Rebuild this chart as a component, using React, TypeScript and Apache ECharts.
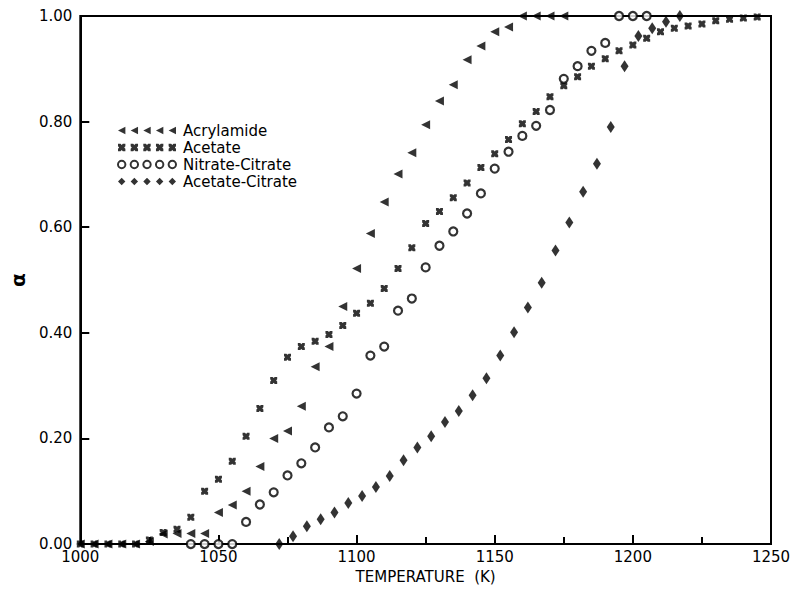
import React, { useEffect, useRef } from "react";
import * as echarts from "echarts";

const xTicks = [1000, 1050, 1100, 1150, 1200, 1250];
const yTicks = [0, 0.2, 0.4, 0.6, 0.8, 1.0];

const seriesNames = ["Acrylamide", "Acetate", "Nitrate-Citrate", "Acetate-Citrate"];

const acrylamideT = [1000, 1005, 1010, 1015, 1020, 1025, 1030, 1035, 1040, 1045, 1050, 1055, 1060, 1065, 1070, 1075, 1080, 1085, 1090, 1095, 1100, 1105, 1110, 1115, 1120, 1125, 1130, 1135, 1140, 1145, 1150, 1155, 1160, 1165, 1170, 1175];
const acrylamideA = [0, 0, 0, 0, 0, 0.005, 0.019, 0.02, 0.02, 0.02, 0.06, 0.074, 0.1, 0.147, 0.2, 0.214, 0.261, 0.336, 0.374, 0.45, 0.522, 0.588, 0.648, 0.701, 0.741, 0.794, 0.839, 0.87, 0.917, 0.943, 0.97, 0.979, 1, 1, 1, 1];

const acetateT = [1000, 1005, 1010, 1015, 1020, 1025, 1030, 1035, 1040, 1045, 1050, 1055, 1060, 1065, 1070, 1075, 1080, 1085, 1090, 1095, 1100, 1105, 1110, 1115, 1120, 1125, 1130, 1135, 1140, 1145, 1150, 1155, 1160, 1165, 1170, 1175, 1180, 1185, 1190, 1195, 1200, 1205, 1210, 1215, 1220, 1225, 1230, 1235, 1240, 1245];
const acetateA = [0, 0, 0, 0, 0, 0.008, 0.022, 0.028, 0.051, 0.1, 0.123, 0.157, 0.204, 0.257, 0.31, 0.354, 0.374, 0.384, 0.397, 0.414, 0.437, 0.456, 0.484, 0.522, 0.561, 0.607, 0.63, 0.656, 0.684, 0.713, 0.739, 0.766, 0.796, 0.819, 0.847, 0.868, 0.885, 0.905, 0.919, 0.934, 0.945, 0.958, 0.97, 0.977, 0.981, 0.985, 0.991, 0.994, 0.996, 0.998];

const nitrateT = [1040, 1045, 1050, 1055, 1060, 1065, 1070, 1075, 1080, 1085, 1090, 1095, 1100, 1105, 1110, 1115, 1120, 1125, 1130, 1135, 1140, 1145, 1150, 1155, 1160, 1165, 1170, 1175, 1180, 1185, 1190, 1195, 1200, 1205];
const nitrateA = [0, 0, 0, 0, 0.042, 0.075, 0.098, 0.13, 0.153, 0.183, 0.221, 0.242, 0.285, 0.357, 0.374, 0.442, 0.465, 0.524, 0.565, 0.592, 0.626, 0.664, 0.711, 0.743, 0.773, 0.792, 0.822, 0.881, 0.905, 0.934, 0.949, 1, 1, 1];

const acCitT = [1072, 1077, 1082, 1087, 1092, 1097, 1102, 1107, 1112, 1117, 1122, 1127, 1132, 1137, 1142, 1147, 1152, 1157, 1162, 1167, 1172, 1177, 1182, 1187, 1192, 1197, 1202, 1207, 1212, 1217];
const acCitA = [0, 0.015, 0.034, 0.047, 0.06, 0.078, 0.091, 0.108, 0.129, 0.159, 0.183, 0.204, 0.231, 0.252, 0.282, 0.314, 0.357, 0.401, 0.448, 0.495, 0.556, 0.609, 0.667, 0.72, 0.79, 0.905, 0.962, 0.977, 0.989, 1.0];

const FONT = "DejaVu Sans";

const xMarkPath =
  "path://M0,0L3.5,0L5,1.5L6.5,0L10,0L10,3.5L8.5,5L10,6.5L10,10L6.5,10L5,8.5L3.5,10L0,10L0,6.5L1.5,5L0,3.5Z";

function repeatPath(one: (o: number) => string) {
  let s = "";
  for (let i = 0; i < 5; i++) s += one(i * 12);
  return "path://" + s;
}
const triIcon = repeatPath((o) => `M${o},3.5L${o + 7},0L${o + 7},7Z`);
const xIcon = repeatPath(
  (o) =>
    `M${o},0L${o + 2.4},0L${o + 3.5},1.1L${o + 4.6},0L${o + 7},0L${o + 7},2.4L${o + 5.9},3.5L${o + 7},4.6L${o + 7},7L${o + 4.6},7L${o + 3.5},5.9L${o + 2.4},7L${o},7L${o},4.6L${o + 1.1},3.5L${o},2.4Z`
);
const circIcon = repeatPath(
  (o) => `M${o},3.5a3.5,3.5 0 1,0 7,0a3.5,3.5 0 1,0 -7,0Z`
);
const diaIcon = repeatPath((o) => `M${o + 3.5},0L${o + 7},3.5L${o + 3.5},7L${o},3.5Z`);

function pairs(t: number[], a: number[]) {
  return t.map((x, i) => [x, a[i]]);
}

export default function App() {
  const ref = useRef<HTMLDivElement>(null);
  useEffect(() => {
    document.body.style.margin = "0";
    if (!ref.current) return;
    const chart = echarts.init(ref.current, undefined, { renderer: "svg" });
    chart.setOption({
      animation: false,
      backgroundColor: "#fff",
      grid: {
        left: 80,
        right: 24,
        top: 16,
        bottom: 37,
        show: true,
        borderColor: "#000",
        borderWidth: 2,
      },
      legend: {
        orient: "vertical",
        left: 117,
        top: 123,
        padding: 0,
        itemGap: 2,
        itemWidth: 58,
        itemHeight: 8,
        textStyle: { fontFamily: FONT, fontSize: 15, color: "#000", lineHeight: 15, padding: [0, 0, 0, 2] },
        data: [
          { name: seriesNames[0], icon: triIcon },
          { name: seriesNames[1], icon: xIcon },
          { name: seriesNames[2], icon: circIcon },
          { name: seriesNames[3], icon: diaIcon },
        ],
      },
      xAxis: {
        type: "value",
        min: xTicks[0],
        max: xTicks[xTicks.length - 1],
        interval: 50,
        name: "TEMPERATURE  (K)",
        nameLocation: "middle",
        nameGap: 24,
        nameTextStyle: { fontFamily: FONT, fontSize: 15, color: "#000" },
        axisLine: { show: true, lineStyle: { color: "#000", width: 2 } },
        axisTick: { show: true, inside: true, length: 9, lineStyle: { color: "#000", width: 2 } },
        minorTick: { show: true, splitNumber: 2, length: 7, lineStyle: { color: "#000", width: 2 } },
        axisLabel: {
          fontFamily: FONT,
          fontSize: 15,
          color: "#000",
          margin: 5,
          formatter: (v: number) => String(v),
        },
        splitLine: { show: false },
      },
      yAxis: {
        type: "value",
        min: yTicks[0],
        max: yTicks[yTicks.length - 1],
        interval: 0.2,
        name: "α",
        nameLocation: "middle",
        nameGap: 42,
        nameRotate: 90,
        nameTextStyle: { fontFamily: FONT, fontSize: 20, fontWeight: "bold", color: "#000" },
        axisLine: { show: true, lineStyle: { color: "#000", width: 2 } },
        axisTick: { show: true, inside: true, length: 9, lineStyle: { color: "#000", width: 2 } },
        axisLabel: {
          fontFamily: FONT,
          fontSize: 15,
          color: "#000",
          margin: 8,
          formatter: (v: number) => v.toFixed(2),
        },
        splitLine: { show: false },
      },
      series: [
        {
          name: seriesNames[0],
          type: "scatter",
          symbol: "triangle",
          symbolRotate: 90,
          symbolSize: 9,
          itemStyle: { color: "#000" },
          data: pairs(acrylamideT, acrylamideA),
        },
        {
          name: seriesNames[1],
          type: "scatter",
          symbol: xMarkPath,
          symbolSize: 7,
          itemStyle: { color: "#000" },
          data: pairs(acetateT, acetateA),
        },
        {
          name: seriesNames[2],
          type: "scatter",
          symbol: "circle",
          symbolSize: 8,
          itemStyle: { color: "#fff", borderColor: "#000", borderWidth: 2.2 },
          data: pairs(nitrateT, nitrateA),
        },
        {
          name: seriesNames[3],
          type: "scatter",
          symbol: "diamond",
          symbolSize: [8, 12],
          itemStyle: { color: "#000" },
          data: pairs(acCitT, acCitA),
        },
      ],
    });
    return () => chart.dispose();
  }, []);
  return <div ref={ref} style={{ width: 795, height: 589 }} />;
}
